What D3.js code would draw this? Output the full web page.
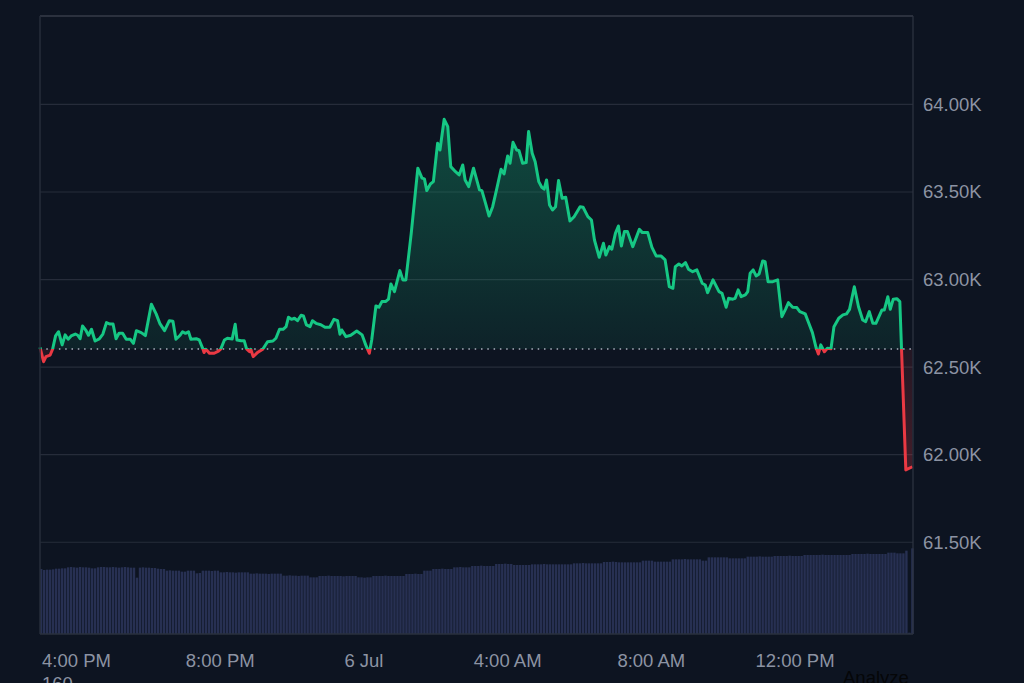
<!DOCTYPE html>
<html><head><meta charset="utf-8">
<script src="https://cdn.jsdelivr.net/npm/d3@7"></script>
<style>
html,body{margin:0;padding:0;background:#0d1421;overflow:hidden;}
svg{display:block;font-family:"Liberation Sans",Arial,sans-serif;}
</style></head><body>
<svg id="chart" width="1024" height="683"></svg>
<script>
// ---------- DATA ----------
const startTime = "2024-07-05T14:59:00";
const spanMinutes = 1458;
const openPrice = 62604;
// minutes after start, and price (USD)
const priceMinutes = [0,6,10,17,21,26,31,37,42,47,52,59,63,67,71,77,81,86,92,99,105,111,117,122,127,132,138,144,151,156,161,169,176,186,194,200,208,216,222,227,234,238,243,248,252,261,266,272,274,277,283,291,298,302,308,313,321,326,329,336,341,345,350,352,356,364,372,380,389,394,400,406,411,415,420,425,430,436,440,445,451,455,461,469,476,484,491,497,501,504,511,519,529,538,544,550,554,561,566,571,577,582,586,592,601,606,611,620,631,638,642,646,652,657,664,668,675,681,686,694,700,706,710,716,724,734,738,744,750,756,763,770,775,781,785,790,796,800,806,812,816,822,827,833,838,842,846,851,856,861,866,872,878,885,892,902,907,915,921,926,934,941,945,951,955,961,966,971,976,981,990,1001,1006,1015,1022,1029,1037,1044,1051,1057,1061,1067,1072,1078,1083,1090,1097,1106,1111,1115,1124,1134,1139,1146,1150,1157,1161,1166,1171,1178,1182,1186,1191,1196,1201,1207,1211,1216,1224,1232,1239,1245,1250,1257,1264,1269,1278,1284,1290,1296,1300,1304,1310,1315,1321,1326,1334,1341,1347,1352,1360,1367,1374,1379,1385,1391,1396,1406,1410,1416,1420,1425,1431,1436,1446,1457];
const priceValues = [62613,62531,62560,62569,62602,62678,62702,62627,62684,62659,62678,62689,62682,62662,62735,62708,62682,62716,62649,62661,62689,62754,62746,62746,62662,62693,62693,62659,62659,62636,62708,62697,62680,62859,62804,62750,62708,62765,62762,62659,62682,62702,62693,62702,62659,62662,62655,62604,62583,62602,62579,62579,62591,62604,62655,62665,62661,62745,62655,62651,62651,62604,62588,62602,62560,62585,62602,62645,62649,62665,62716,62716,62731,62785,62773,62779,62765,62796,62792,62741,62731,62765,62750,62742,62728,62728,62773,62765,62688,62712,62674,62682,62706,62684,62627,62579,62655,62849,62842,62874,62874,62888,62975,62931,63051,62998,62998,63264,63636,63579,63575,63508,63546,63559,63778,63740,63915,63873,63645,63616,63597,63654,63569,63531,63636,63512,63508,63436,63363,63416,63521,63630,63603,63706,63664,63784,63740,63736,63664,63668,63845,63721,63673,63559,63527,63516,63569,63426,63397,63416,63565,63464,63470,63335,63359,63416,63413,63359,63340,63226,63127,63207,63140,63188,63173,63264,63306,63192,63274,63274,63188,63287,63268,63268,63184,63135,63135,63112,62959,62950,63074,63089,63078,63097,63059,63045,63055,62979,62969,62925,62998,62931,62922,62842,62893,62888,62893,62941,62902,62912,62931,63036,63055,63021,63032,63106,63102,62988,62988,62998,62788,62830,62868,62842,62840,62817,62804,62750,62697,62613,62575,62627,62588,62608,62605,62731,62779,62798,62804,62830,62959,62845,62769,62760,62817,62750,62750,62826,62826,62902,62830,62888,62891,62874,61913,61931];
// 24h volume (billion USD), one bar per 5 minutes
const volumeStepMinutes = 5;
const volumeValues = [
19.5,19.2,19.3,19.3,19.4,19.6,19.6,19.7,19.7,
20.0,20.1,20.0,19.9,20.1,20.0,20.0,19.9,19.7,19.7,
20.0,20.1,20.1,20.0,20.0,20.1,20.0,19.9,20.0,20.1,20.0,19.9,19.9,
16.9,19.9,20.0,19.9,19.9,19.8,19.8,19.6,19.5,19.5,
19.0,19.1,19.0,19.0,19.0,18.7,18.7,19.0,19.0,19.0,18.2,18.3,
19.0,19.0,19.0,18.9,19.0,19.0,18.5,18.5,18.6,18.5,18.5,18.4,18.5,18.5,18.5,18.5,
18.1,18.1,18.2,18.1,18.1,18.1,18.0,18.1,18.1,18.1,18.1,17.5,17.5,17.6,17.5,17.5,17.4,17.5,17.5,17.5,
17.0,17.0,17.0,17.4,17.4,17.4,17.5,17.4,17.4,17.4,17.4,17.3,17.4,17.4,17.4,17.4,17.0,17.0,16.9,17.0,17.0,
17.4,17.4,17.4,17.4,17.5,17.4,17.4,17.4,17.4,17.4,17.4,18.0,18.0,18.0,18.1,18.0,18.0,19.0,19.0,19.0,
19.5,19.5,19.5,19.6,19.5,19.5,19.5,20.0,20.0,20.1,20.0,20.0,20.0,20.4,20.4,20.4,20.5,20.4,20.4,20.4,20.4,
21.0,21.0,21.0,21.1,21.0,21.0,20.7,20.7,20.7,20.7,20.7,20.7,20.9,20.9,20.9,20.9,21.0,20.9,20.9,20.9,20.9,20.9,20.9,20.9,20.9,20.9,
21.2,21.2,21.2,21.3,21.2,21.2,21.2,21.2,21.2,21.2,21.6,21.6,21.6,21.7,21.6,21.5,21.5,21.5,21.5,21.5,21.5,21.5,21.5,
22.0,22.0,22.0,22.0,21.7,21.7,21.7,21.7,21.7,21.7,22.4,22.4,22.4,22.4,22.5,22.4,22.4,22.4,22.4,22.4,22.0,22.0,
23.0,23.0,23.0,23.0,23.0,23.0,23.0,22.7,22.7,22.7,22.7,22.7,22.7,23.2,23.2,23.2,23.2,23.3,23.2,23.2,23.2,23.2,
23.4,23.4,23.4,23.4,23.4,23.5,23.4,23.4,23.4,23.4,23.7,23.7,23.7,23.7,23.7,23.7,23.8,23.7,23.7,23.7,23.7,23.7,23.7,23.7,23.7,23.7,
24.0,24.0,24.0,24.0,24.0,24.1,24.0,24.0,24.0,24.0,24.0,24.0,24.4,24.4,24.4,24.2,24.2,24.2,25.0,0.4,25.7
];
const yTickValues = [61500, 62000, 62500, 63000, 63500, 64000];
const xTickTimes = ["2024-07-05T16:00:00","2024-07-05T20:00:00","2024-07-06T00:00:00","2024-07-06T04:00:00","2024-07-06T08:00:00","2024-07-06T12:00:00"];
const xTickLabels = ["4:00 PM","8:00 PM","6 Jul","4:00 AM","8:00 AM","12:00 PM"];
const footerLabels = ["160","Analyze"];

// ---------- CHART ----------
const parse = d3.timeParse("%Y-%m-%dT%H:%M:%S");
const t0 = parse(startTime);
const addMin = m => new Date(t0.getTime() + m * 60000);

const L = 40, R = 913, T = 16, B = 634;
const svg = d3.select("#chart");
svg.append("rect").attr("width",1024).attr("height",683).attr("fill","#0d1421");

const x = d3.scaleTime().domain([t0, addMin(spanMinutes)]).range([L, R]);
const y = d3.scaleLinear().domain([60976, 64505]).range([B, T]);
const vy = d3.scaleLinear().domain([0, 30]).range([B, B - 100]);

const data = priceMinutes.map((m, i) => ({t: addMin(m), v: priceValues[i]}));
const yOpen = y(openPrice);

const defs = svg.append("defs");
defs.append("clipPath").attr("id","clipUp").append("rect")
  .attr("x",L-2).attr("y",T).attr("width",R-L+4).attr("height",yOpen-T);
defs.append("clipPath").attr("id","clipDown").append("rect")
  .attr("x",L-2).attr("y",yOpen).attr("width",R-L+4).attr("height",B-yOpen);
const gG = defs.append("linearGradient").attr("id","gGreen").attr("gradientUnits","userSpaceOnUse")
  .attr("x1",0).attr("x2",0).attr("y1",y(64000)).attr("y2",yOpen);
gG.append("stop").attr("offset",0).attr("stop-color","#16c784").attr("stop-opacity",0.32);
gG.append("stop").attr("offset",1).attr("stop-color","#16c784").attr("stop-opacity",0.08);
const gR = defs.append("linearGradient").attr("id","gRed").attr("gradientUnits","userSpaceOnUse")
  .attr("x1",0).attr("x2",0).attr("y1",yOpen).attr("y2",y(61900));
gR.append("stop").attr("offset",0).attr("stop-color","#ea3943").attr("stop-opacity",0.1);
gR.append("stop").attr("offset",1).attr("stop-color","#ea3943").attr("stop-opacity",0.25);

// grid
svg.append("g").selectAll("line").data(yTickValues).join("line")
  .attr("x1",L).attr("x2",R).attr("y1",d=>y(d)).attr("y2",d=>y(d))
  .attr("stroke","#262c3a").attr("stroke-width",1.2);

// volume bars
svg.append("g").selectAll("rect").data(volumeValues).join("rect")
  .attr("x",(d,i)=>x(addMin(i*volumeStepMinutes)))
  .attr("width",(d,i)=>Math.max(0.5, x(addMin((i+1)*volumeStepMinutes)) - x(addMin(i*volumeStepMinutes)) - 0.6))
  .attr("y",d=>vy(d)).attr("height",d=>B - vy(d))
  .attr("fill","#273052");

// areas
const area = d3.area().x(d=>x(d.t)).y0(yOpen).y1(d=>y(d.v));
svg.append("path").datum(data).attr("d",area).attr("fill","url(#gGreen)").attr("clip-path","url(#clipUp)");
svg.append("path").datum(data).attr("d",area).attr("fill","url(#gRed)").attr("clip-path","url(#clipDown)");

// baseline
svg.append("line").attr("x1",L).attr("x2",R).attr("y1",yOpen).attr("y2",yOpen)
  .attr("stroke","#a9afbc").attr("stroke-width",1.5).attr("stroke-dasharray","1.5 4.8");

// lines
const line = d3.line().x(d=>x(d.t)).y(d=>y(d.v));
svg.append("path").datum(data).attr("d",line).attr("fill","none").attr("stroke","#16c784")
  .attr("stroke-width",3).attr("stroke-linejoin","round").attr("clip-path","url(#clipUp)");
svg.append("path").datum(data).attr("d",line).attr("fill","none").attr("stroke","#ea3943")
  .attr("stroke-width",3).attr("stroke-linejoin","round").attr("clip-path","url(#clipDown)");

// frame
svg.append("line").attr("x1",L).attr("x2",R).attr("y1",T).attr("y2",T).attr("stroke","#363b48").attr("stroke-width",1.5);
svg.append("line").attr("x1",L).attr("x2",L).attr("y1",T).attr("y2",B).attr("stroke","#262c3a").attr("stroke-width",1.5);
svg.append("line").attr("x1",R).attr("x2",R).attr("y1",T).attr("y2",B).attr("stroke","#2e3442").attr("stroke-width",1.2);
svg.append("line").attr("x1",L).attr("x2",R).attr("y1",B).attr("y2",B).attr("stroke","#2a303e").attr("stroke-width",1.5);

// y labels
const fmt = d => d3.format(".2f")(d/1000) + "K";
svg.append("g").selectAll("text").data(yTickValues).join("text")
  .attr("x",R+10).attr("y",d=>y(d)).attr("dy","0.35em")
  .attr("fill","#8c93a3").attr("font-size","18.5px").text(fmt);

// x labels
svg.append("g").selectAll("text").data(xTickTimes).join("text")
  .attr("x",d=>x(parse(d))).attr("y",667.3).attr("text-anchor","middle")
  .attr("fill","#8c93a3").attr("font-size","18.5px").text((d,i)=>xTickLabels[i]);

// footer (partly outside the window, as in the reference)
svg.append("text").attr("x",42).attr("y",690).attr("fill","#8c93a3").attr("font-size","18.5px").text(footerLabels[0]);
svg.append("text").attr("x",843).attr("y",683.5).attr("fill","#050608").attr("font-size","18.5px").text(footerLabels[1]);
</script>
</body></html>
